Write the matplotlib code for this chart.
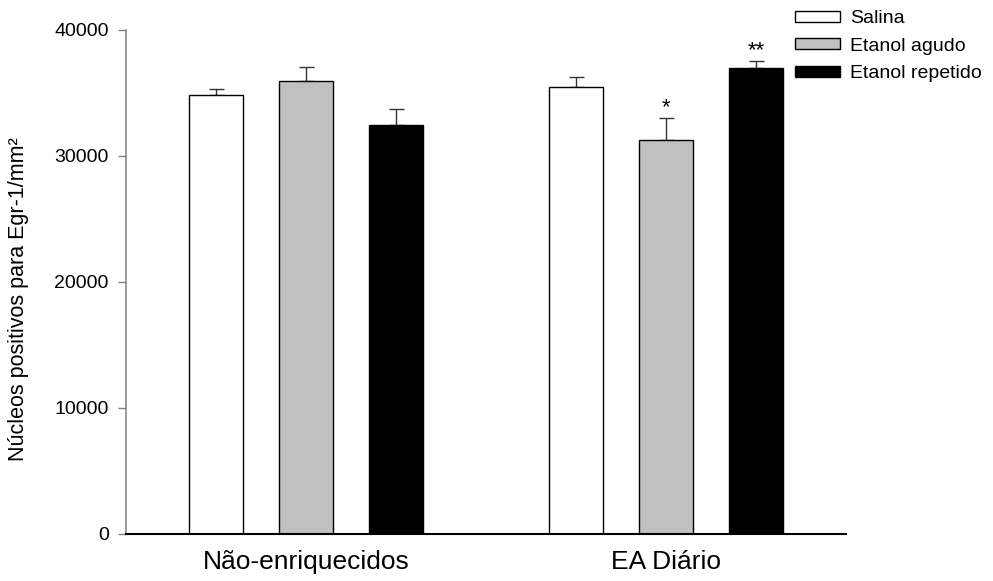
import numpy as np
import matplotlib.pyplot as plt

plt.rcParams['font.family'] = ['Liberation Sans', 'DejaVu Sans']

# dados
grupos = ["Não-enriquecidos", "EA Diário"]
series = ["Salina", "Etanol agudo", "Etanol repetido"]
salina = [34800, 35450]
salina_err = [550, 850]
agudo = [35950, 31250]
agudo_err = [1150, 1750]
repetido = [32450, 37000]
repetido_err = [1270, 550]
marcas = ["", "", "", "", "*", "**"]  # por barra: grupo1 (S, A, R), grupo2 (S, A, R)
yticks = [0, 10000, 20000, 30000, 40000]

cores = ["white", "#c0c0c0", "black"]
medias = [salina, agudo, repetido]
erros = [salina_err, agudo_err, repetido_err]

fig = plt.figure(figsize=(9.93, 5.81), dpi=100)
ax = fig.add_axes([126/993, 47.3/581, 720/993, 503.7/581])

xg = np.array([0, 4])
for i in range(3):
    x = xg + (i - 1)
    ax.bar(x, medias[i], width=0.6, color=cores[i], edgecolor="black",
           linewidth=1.0, label=series[i], zorder=2)
    # so a barra de erro superior
    ax.errorbar(x, medias[i], yerr=[np.zeros(2), erros[i]], fmt="none",
                ecolor="#333333", elinewidth=1.0, capsize=5.4, capthick=1.0, zorder=1)
    for j in range(2):
        m = marcas[j * 3 + i]
        if m:
            ax.text(x[j], medias[i][j] + erros[i][j], m, ha="center", va="bottom",
                    fontsize=16)

ax.set_xlim(-2, 6)
ax.set_ylim(0, 40000)
ax.set_yticks(yticks)
ax.set_yticklabels([str(t) for t in yticks])
ax.set_xticks(xg)
ax.set_xticklabels(grupos, fontsize=19)
ax.tick_params(axis="x", length=0, pad=11.5)
ax.tick_params(axis="y", length=6, width=1.0, color="#808080", labelsize=14, pad=6.5)

ax.spines["top"].set_visible(False)
ax.spines["right"].set_visible(False)
ax.spines["left"].set_color("#808080")
ax.spines["left"].set_linewidth(1.1)
ax.spines["bottom"].set_linewidth(1.5)

ax.set_ylabel("Núcleos positivos para Egr-1/mm²", fontsize=15.5)
ax.yaxis.set_label_coords(-0.135, 0.466)

fig.legend(loc="upper left", bbox_to_anchor=(795/993, 1 - 10/581), frameon=False,
           fontsize=14, handlelength=2.3, handleheight=0.5, handletextpad=0.55,
           labelspacing=0.55, borderpad=0, borderaxespad=0)

fig.savefig("out.png", dpi=100)
